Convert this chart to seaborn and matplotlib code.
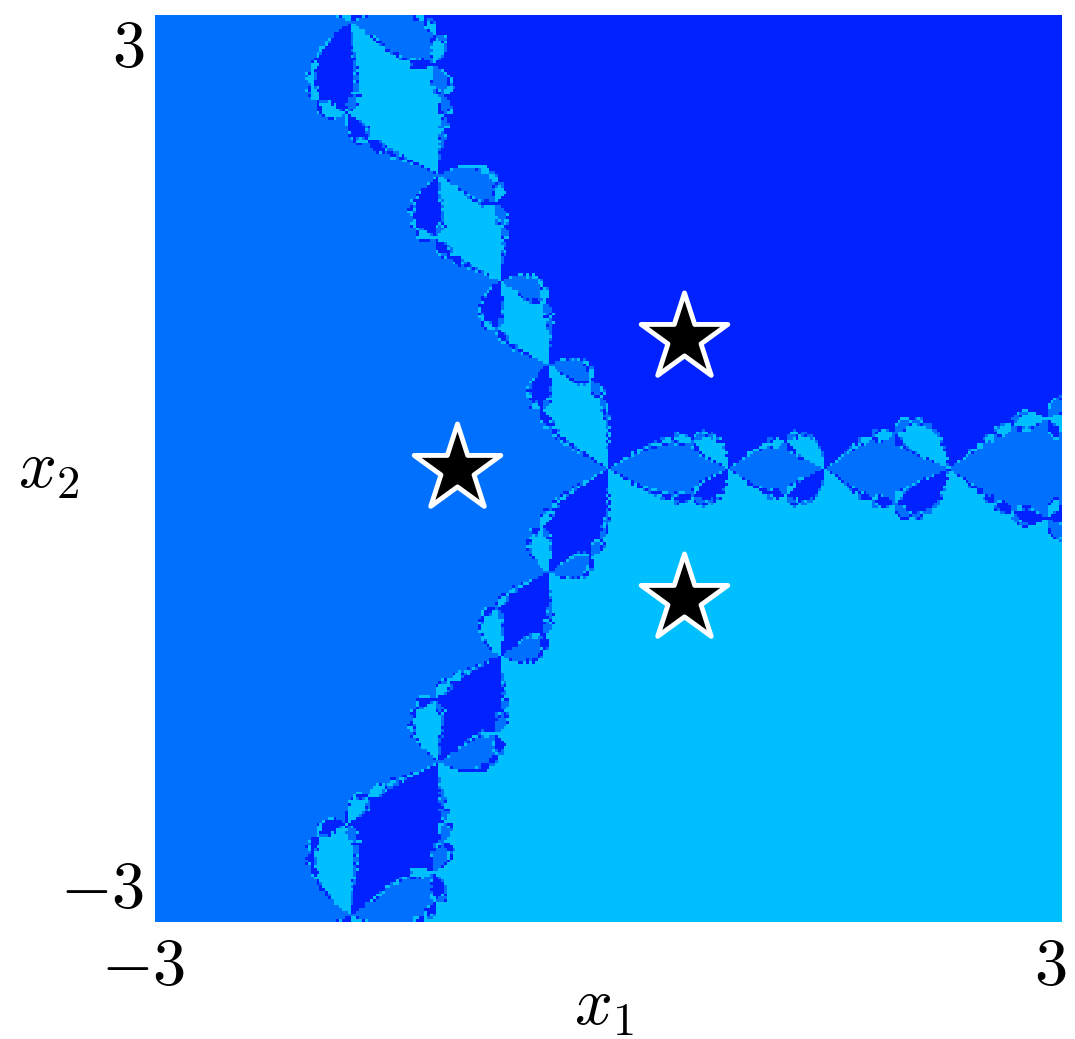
import numpy as np
import matplotlib
matplotlib.use("Agg")
import matplotlib.pyplot as plt
from matplotlib.colors import ListedColormap
from matplotlib.transforms import ScaledTranslation
import seaborn as sns

# Roots of z^3 + 1 (the star markers)
root_x = [-1.0, 0.5, 0.5]
root_y = [0.0, 0.8660254, -0.8660254]
basin_colors = ["#0070ff", "#0022ff", "#00bfff"]
tick_vals = [-3, 3]
tick_labels = [r"$-3$", r"$3$"]
x_range = [-3, 3]

sns.set_style("white")
plt.rcParams["mathtext.fontset"] = "cm"
plt.rcParams["font.family"] = ["DejaVu Sans"]
plt.rcParams["text.color"] = "black"
plt.rcParams["axes.labelcolor"] = "black"
plt.rcParams["xtick.color"] = "black"
plt.rcParams["ytick.color"] = "black"

# Newton basins of attraction for z^3 + 1
n = 320
xs = np.linspace(x_range[0], x_range[1], n)
X, Y = np.meshgrid(xs, xs)
Z = X + 1j * Y
with np.errstate(all="ignore"):
    for _ in range(60):
        Z = Z - (Z**3 + 1) / (3 * Z**2)
roots = np.array(root_x) + 1j * np.array(root_y)
dist = np.abs(Z[..., None] - roots[None, None, :])
dist = np.nan_to_num(dist, nan=1e9)
basin = np.argmin(dist, axis=-1)

fig = plt.figure(figsize=(10.75, 10.39), dpi=100)
ax = fig.add_axes([155 / 1075, 1 - 922 / 1039, 907 / 1075, 907 / 1039])
ax.imshow(basin, origin="lower", extent=[-3, 3, -3, 3],
          cmap=ListedColormap(basin_colors), vmin=-0.5, vmax=2.5,
          interpolation="nearest", aspect="auto")
sns.scatterplot(x=root_x, y=root_y, marker="*", s=4300, color="black",
                edgecolor="white", linewidth=3.5, ax=ax, zorder=5, legend=False)
ax.set_xlim(-3, 3)
ax.set_ylim(-3, 3)
ax.set_xticks(tick_vals)
ax.set_xticklabels(tick_labels, fontsize=48, color="black")
ax.set_yticks(tick_vals)
ax.set_yticklabels(tick_labels, fontsize=48, color="black")
ax.tick_params(axis="x", length=0, pad=8)
ax.tick_params(axis="y", length=0, pad=8)
ylabs = ax.get_yticklabels()
ylabs[0].set_va("bottom")
ylabs[1].set_va("top")
for lab in ax.get_xticklabels():
    lab.set_transform(lab.get_transform() + ScaledTranslation(-0.12, 0, fig.dpi_scale_trans))
for s in ax.spines.values():
    s.set_visible(False)
ax.set_xlabel(r"$x_1$", fontsize=48, va="center", color="black")
ax.xaxis.set_label_coords(0.495, -0.092)
ax.set_ylabel(r"$x_2$", fontsize=48, rotation=0, ha="center", va="center", color="black")
ax.yaxis.set_label_coords(-0.117, 0.5)
fig.savefig("out.png", dpi=100)
